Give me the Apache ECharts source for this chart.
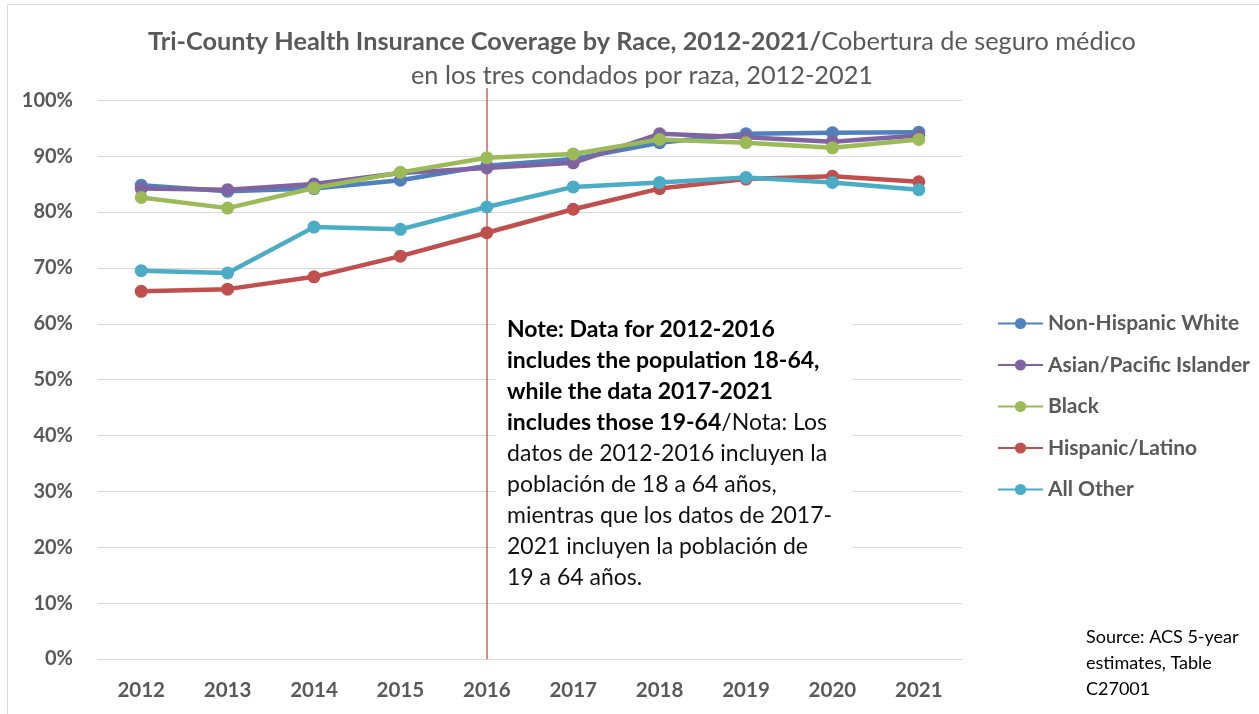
<!DOCTYPE html>
<html>
<head>
<meta charset="utf-8">
<script src="https://cdn.jsdelivr.net/npm/echarts@6/dist/echarts.min.js"></script>
<style>
  html, body { margin: 0; padding: 0; background: #fff; }
  #chart { width: 1259px; height: 714px; }
</style>
</head>
<body>
<div id="chart"></div>
<script>
// Coverage rate (%) by year and group
const years = ['2012', '2013', '2014', '2015', '2016', '2017', '2018', '2019', '2020', '2021'];
const nonHispanicWhite = [84.8, 83.7, 84.2, 85.7, 88.3, 89.5, 92.4, 94.0, 94.2, 94.3];
const asianPacific     = [84.2, 84.0, 85.0, 87.0, 87.9, 88.8, 94.0, 93.4, 92.6, 93.7];
const black            = [82.6, 80.7, 84.3, 87.1, 89.7, 90.4, 93.0, 92.4, 91.5, 93.0];
const hispanicLatino   = [65.8, 66.2, 68.4, 72.1, 76.3, 80.5, 84.2, 85.9, 86.4, 85.4];
const allOther         = [69.5, 69.1, 77.3, 76.9, 80.9, 84.5, 85.3, 86.2, 85.3, 84.0];
const yTicks = [0, 10, 20, 30, 40, 50, 60, 70, 80, 90, 100];
const dividerYear = '2016';

const FONT = 'Lato';
const GRAY = '#595959';

const groups = [
  { name: 'Non-Hispanic White', data: nonHispanicWhite, color: '#4F81BD' },
  { name: 'Asian/Pacific Islander', data: asianPacific, color: '#8064A2' },
  { name: 'Black', data: black, color: '#9BBB59' },
  { name: 'Hispanic/Latino', data: hispanicLatino, color: '#C0504D' },
  { name: 'All Other', data: allOther, color: '#4BACC6' }
];

const series = groups.map((g, i) => ({
  name: g.name,
  type: 'line',
  data: g.data,
  color: g.color,
  symbol: 'circle',
  symbolSize: 13,
  lineStyle: { width: 4.5, color: g.color },
  itemStyle: { color: g.color },
  emphasis: { disabled: true },
  z: 5 + i
}));

// Vertical divider at 2016, where the age range of the data changes.
// The value axis runs a little past 100% so the divider rises above the top gridline.
series.push({
  type: 'line',
  data: [],
  z: 20,
  markLine: {
    symbol: 'none',
    label: { show: false },
    lineStyle: { color: '#D0605D', width: 1.5, type: 'solid' },
    data: [{ xAxis: dividerYear }]
  }
});

const chart = echarts.init(document.getElementById('chart'));
chart.setOption({
  animation: false,
  backgroundColor: '#fff',
  grid: { left: 98, right: 297, top: 88, bottom: 55, containLabel: false },
  legend: {
    orient: 'vertical',
    left: 997,
    top: 313,
    padding: 0,
    itemWidth: 45,
    itemHeight: 14,
    itemGap: 20.5,
    selectedMode: false,
    textStyle: { fontFamily: FONT, fontSize: 21, fontWeight: 'bold', color: GRAY, padding: [0, 0, 0, 0] },
    data: groups.map(g => g.name)
  },
  xAxis: {
    type: 'category',
    data: years,
    boundaryGap: true,
    axisLine: { show: true, lineStyle: { color: '#d9d9d9', width: 1 } },
    axisTick: { show: false },
    axisLabel: { fontFamily: FONT, fontSize: 20.5, fontWeight: 'bold', color: GRAY, margin: 21 }
  },
  yAxis: {
    type: 'value',
    min: yTicks[0],
    max: 102.2,
    interval: yTicks[1] - yTicks[0],
    axisLine: { show: false },
    axisTick: { show: false },
    splitLine: { showMaxLine: false, lineStyle: { color: '#d9d9d9', width: 1 } },
    axisLabel: {
      fontFamily: FONT, fontSize: 20, fontWeight: 'bold', color: GRAY, margin: 25,
      showMaxLabel: false,
      formatter: v => (yTicks.indexOf(v) >= 0 ? v + '%' : '')
    }
  },
  graphic: [
    { type: 'line', shape: { x1: 7.5, y1: 4.5, x2: 1259, y2: 4.5 }, style: { stroke: '#d9d9d9', lineWidth: 1 }, silent: true },
    { type: 'line', shape: { x1: 7.5, y1: 4.5, x2: 7.5, y2: 714 }, style: { stroke: '#d9d9d9', lineWidth: 1 }, silent: true },
    {
      type: 'text',
      x: 642,
      y: 25,
      silent: true,
      style: {
        text: '{b|Tri-County Health Insurance Coverage by Race, 2012-2021/}{n|Cobertura de seguro médico}\n{n|en los tres condados por raza, 2012-2021}',
        align: 'center',
        font: '25.3px ' + FONT,
        lineHeight: 34,
        rich: {
          b: { fontFamily: FONT, fontSize: 25.3, fontWeight: 'bold', fill: GRAY, lineHeight: 34 },
          n: { fontFamily: FONT, fontSize: 25.3, fontWeight: 'normal', fill: GRAY, lineHeight: 34 }
        }
      }
    },
    // white text box for the note, covering the gridlines behind it
    { type: 'rect', shape: { x: 496, y: 308, width: 356, height: 292 }, style: { fill: '#fff' }, silent: true, z: 3 },
    {
      type: 'text',
      left: 507,
      top: 314,
      silent: true,
      z: 4,
      style: {
        text: '{b|Note: Data for 2012-2016}\n{b|includes the population 18-64,}\n{b|while the data 2017-2021}\n{b|includes those 19-64}{n|/Nota: Los}\n{n|datos de 2012-2016 incluyen la}\n{n|población de 18 a 64 años,}\n{n|mientras que los datos de 2017-}\n{n|2021 incluyen la población de}\n{n|19 a 64 años.}',
        font: '23px ' + FONT,
        lineHeight: 31,
        rich: {
          b: { fontFamily: FONT, fontSize: 23, fontWeight: 'bold', fill: '#000', lineHeight: 31 },
          n: { fontFamily: FONT, fontSize: 23, fontWeight: 'normal', fill: '#111', lineHeight: 31 }
        }
      }
    },
    {
      type: 'text',
      left: 1086,
      top: 624,
      silent: true,
      style: {
        text: 'Source: ACS 5-year\nestimates, Table\nC27001',
        font: '18px ' + FONT,
        lineHeight: 26,
        fill: '#000'
      }
    }
  ],
  series: series
});
</script>
</body>
</html>
